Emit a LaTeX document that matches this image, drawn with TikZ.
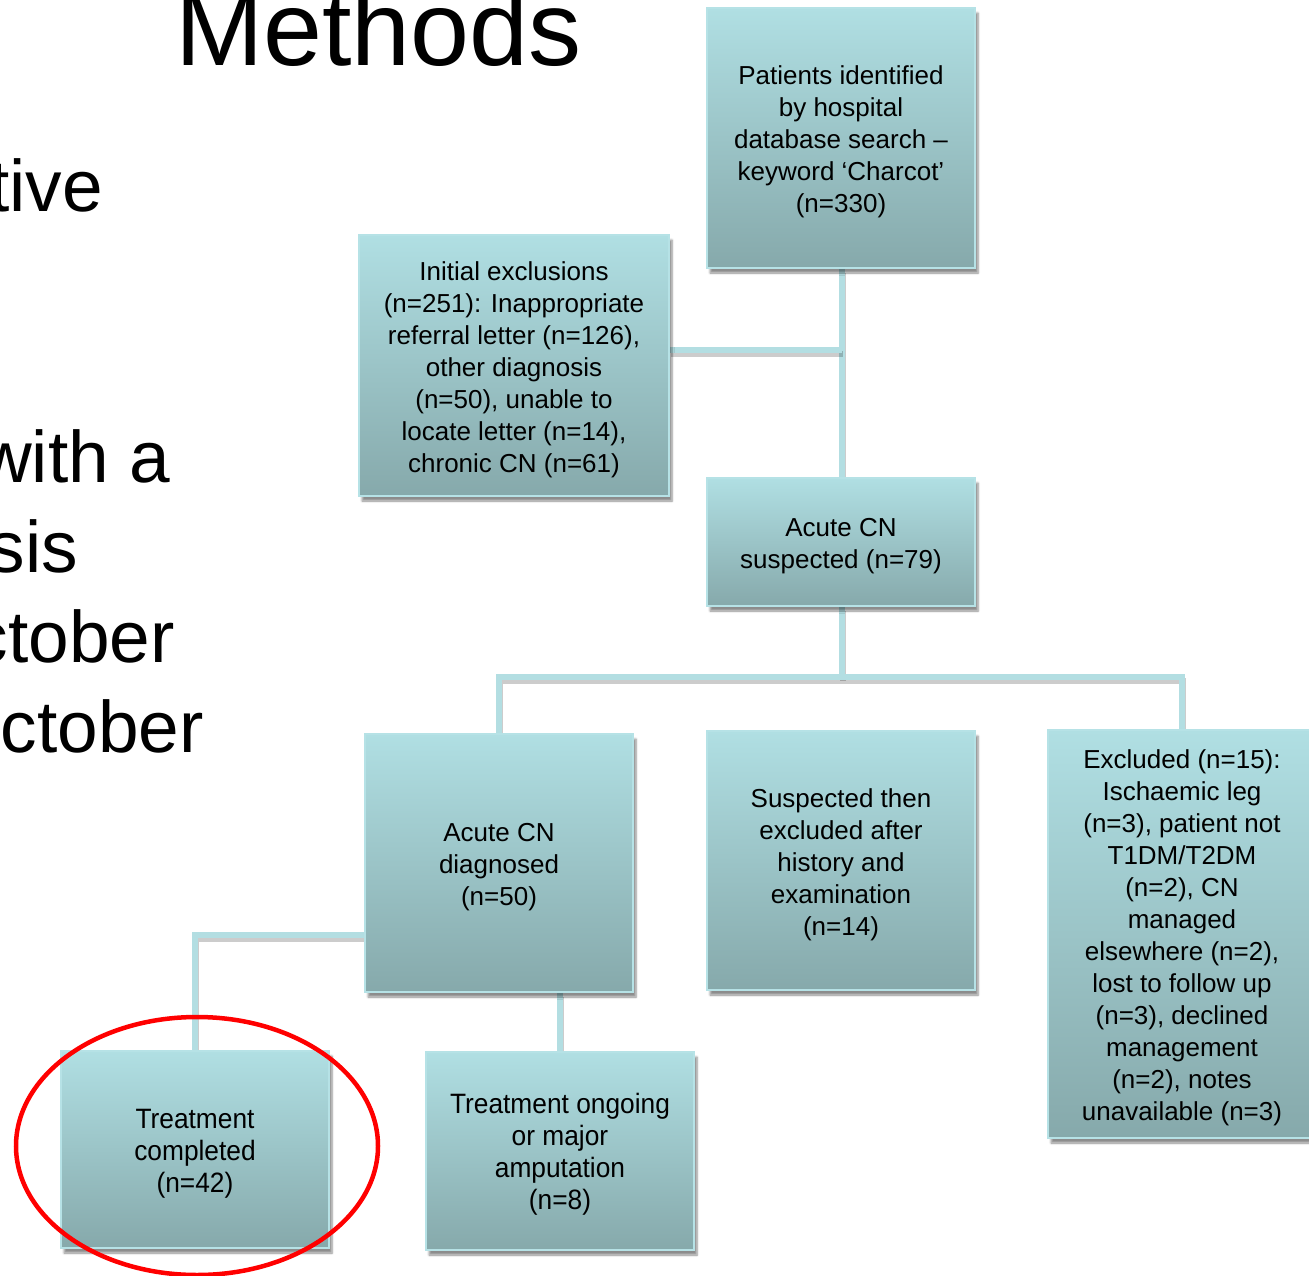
\documentclass[tikz,border=0pt]{standalone}
\usepackage{fontspec}
\setmainfont{Liberation Sans}
\newfontfamily\narrowfont[FakeStretch=0.94]{Liberation Sans}
\usetikzlibrary{shadows.blur,backgrounds,shapes.geometric}
\definecolor{boxtop}{HTML}{B0DFE3}
\definecolor{boxbot}{HTML}{86A9AB}
\definecolor{boxline}{HTML}{B6E2E6}
\definecolor{connc}{HTML}{B3DEE2}
\newcommand{\topstrut}{\rule{0pt}{27pt}}
\begin{document}
\begin{tikzpicture}[x=1pt,y=-1pt,
  flowbox/.style={draw=boxline, line width=1.5pt, top color=boxtop, bottom color=boxbot,
    align=center, inner sep=0pt, font=\fontsize{26}{32}\selectfont,
    blur shadow={shadow xshift=3pt, shadow yshift=-5pt, shadow blur steps=6, shadow opacity=45}},
  narrowbox/.style={flowbox, font=\narrowfont\fontsize{28}{32}\selectfont},
  conn/.style={draw=connc, line width=5.5pt,
    preaction={draw=black, opacity=0.2, line width=5.5pt, transform canvas={shift={(1pt,-4pt)}}}},
  lefttext/.style={anchor=base east, inner sep=0pt, font=\fontsize{73}{90}\selectfont},
]
\useasboundingbox (0,0) rectangle (1309,1276);
\clip (0,0) rectangle (1309,1276);

% slide text
\node[anchor=base west, inner sep=0pt, font=\fontsize{106}{110}\selectfont] (title) at (175,66) {Methods};
\node[lefttext] (l1) at (103,212) {tive};
\node[lefttext] (l2) at (170,482) {with a};
\node[lefttext] (l3) at (78,572) {sis};
\node[lefttext] (l4) at (175,662) {ctober};
\node[lefttext] (l5) at (204,752) {ctober};

% boxes
\node[flowbox, minimum width=268, minimum height=260] (top) at (841,138)
  {\topstrut Patients identified\\by hospital\\database search –\\keyword ‘Charcot’\\(n=330)};
\node[flowbox, minimum width=310, minimum height=261] (excl) at (514,365.5)
  {\topstrut Initial exclusions\\(n=251): Inappropriate\\referral letter (n=126),\\other diagnosis\\(n=50), unable to\\locate letter (n=14),\\chronic CN (n=61)};
\node[flowbox, minimum width=268, minimum height=128] (susp) at (841,542)
  {\topstrut Acute CN\\suspected (n=79)};
\node[flowbox, minimum width=268, minimum height=258] (diag) at (499,863)
  {\topstrut Acute CN\\diagnosed\\(n=50)};
\node[flowbox, minimum width=268, minimum height=259] (suspex) at (841,860.5)
  {\topstrut Suspected then\\excluded after\\history and\\examination\\(n=14)};
\node[flowbox, minimum width=268, minimum height=408] (ex15) at (1182,934)
  {\topstrut Excluded (n=15):\\Ischaemic leg\\(n=3), patient not\\T1DM/T2DM\\(n=2), CN\\managed\\elsewhere (n=2),\\lost to follow up\\(n=3), declined\\management\\(n=2), notes\\unavailable (n=3)};
\node[narrowbox, minimum width=268, minimum height=197] (done) at (195,1149.5)
  {\topstrut Treatment\\completed\\(n=42)};
\node[narrowbox, minimum width=268, minimum height=198] (ongo) at (560,1151)
  {\topstrut Treatment ongoing\\or major\\amputation\\(n=8)};

% connectors
\coordinate (j1) at (842,350);
\coordinate (j2) at (842,677);
\coordinate (j3) at (195,935);
\begin{scope}[on background layer]
\draw[conn] (top.south -| j1) -- (susp.north -| j1);
\draw[conn] (excl.east |- j1) -- (j1);
\draw[conn] (susp.south -| j2) -- (j2);
\draw[conn] (diag.north) -- (diag.north |- j2) -- (ex15.north |- j2) -- (ex15.north);
\draw[conn] (diag.west |- j3) -- (j3) -- (done.north);
\draw[conn] (ongo.north) -- (ongo.north |- diag.south);
\end{scope}

% highlight ring
\node[draw=red, line width=4.5pt, ellipse, inner sep=0pt, minimum width=362, minimum height=258] (ring) at (197,1146) {};
\end{tikzpicture}
\end{document}
